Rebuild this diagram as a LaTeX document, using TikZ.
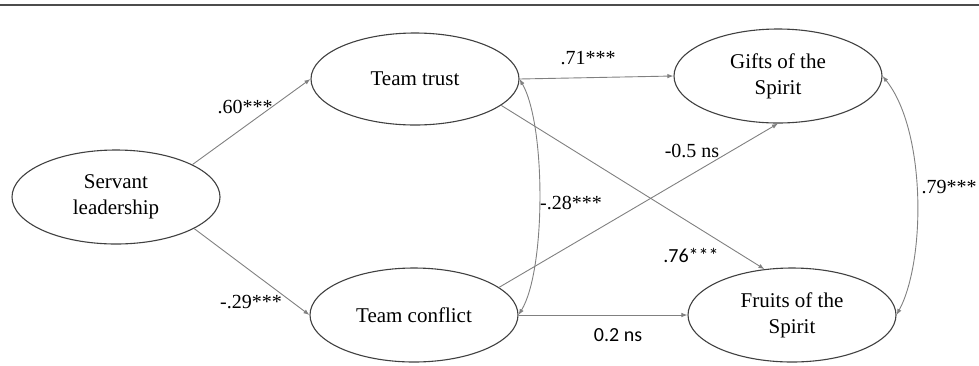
\documentclass[tikz,border=0pt]{standalone}
\usepackage{fontspec}
\setmainfont{Liberation Serif}
\newfontfamily\calib{Carlito}
\usetikzlibrary{shapes.geometric,arrows.meta}
\tikzset{
  latent/.style={ellipse, draw=black!75, line width=1.1pt, inner sep=0pt,
    minimum width=208pt, minimum height=94pt, align=center,
    font=\fontsize{21}{26}\selectfont},
  path/.style={draw=black!50, line width=0.9pt, -{Latex[length=6pt,width=4.5pt]}},
  cov/.style={draw=black!50, line width=0.9pt, {Latex[length=6pt,width=4.5pt]}-{Latex[length=6pt,width=4.5pt]}},
  coef/.style={font=\fontsize{20}{24}\selectfont, inner sep=1pt},
  coefsans/.style={font=\calib\fontsize{20}{24}\selectfont, inner sep=1pt},
}
\begin{document}
\begin{tikzpicture}[x=1pt,y=-1pt]
\useasboundingbox (0,0) rectangle (979,365);
\draw[black!70, line width=2pt] (0,5) -- (979,5);

\node[latent] (sl) at (116,197) {Servant\\leadership};
\node[latent, minimum height=92pt] (tt) at (415,79) {Team trust};
\node[latent] (tc) at (414,315) {Team conflict};
\node[latent] (gs) at (778,76) {Gifts of the\\Spirit};
\node[latent] (fs) at (792,315) {Fruits of the\\Spirit};

\draw[path] (sl.23) -- (tt.west);
\draw[path] (sl.-22) -- (tc.west);
\draw[path] (tt.east) -- (gs.west);
\draw[path] (tt.-17) -- (fs.121);
\draw[path] (tc.18) -- (gs.south);
\draw[path] (tc.east) -- (fs.west);
\draw[cov] (tt.east) .. controls (546,125) and (546,270) .. (tc.east);
\draw[cov] (gs.east) .. controls (926,130) and (926,260) .. (fs.east);

\node[coef] (l60) at (245,107) {.60***};
\node[coef] (l29) at (251,302) {-.29***};
\node[coef] (l71) at (588,58) {.71***};
\node[coef] (l28) at (571,203) {-.28***};
\node[coef] (l05) at (692,151) {-0.5 ns};
\node[coefsans] (l76) at (691,255) {.76***};
\node[coefsans] (l02) at (618,335) {0.2 ns};
\node[coef] (l79) at (949,187) {.79***};
\end{tikzpicture}
\end{document}
